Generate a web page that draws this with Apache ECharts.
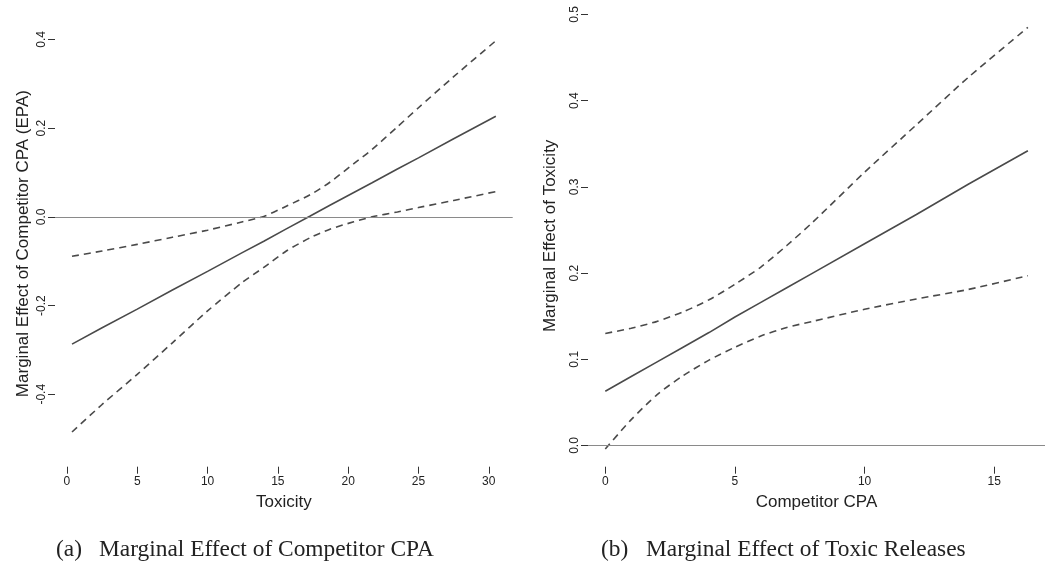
<!DOCTYPE html>
<html>
<head>
<meta charset="utf-8">
<script src="https://cdn.jsdelivr.net/npm/echarts@6/dist/echarts.min.js"></script>
<style>
  html, body { margin: 0; padding: 0; background: #fff; }
  #main { width: 1045px; height: 565px; }
</style>
</head>
<body>
<div id="main"></div>
<script>
// panel (a): marginal effect of competitor CPA over toxicity
var toxicityX = [0.36, 2.5, 5, 7.5, 10, 12.5, 14, 15.6, 17.3, 18.7, 20.4, 21.7, 23.5, 25, 27.5, 30.5]
var effectA = [-0.287, -0.250, -0.208, -0.165, -0.123, -0.080, -0.055, -0.027, 0.002, 0.026, 0.055, 0.077, 0.108, 0.133, 0.176, 0.227]
var upperA = [-0.089, -0.077, -0.062, -0.046, -0.030, -0.011, 0.001, 0.024, 0.050, 0.078, 0.120, 0.152, 0.203, 0.246, 0.316, 0.397]
var lowerA = [-0.485, -0.423, -0.355, -0.284, -0.212, -0.147, -0.114, -0.077, -0.047, -0.028, -0.011, 0.000, 0.011, 0.021, 0.037, 0.057]
var xTicksA = [0, 5, 10, 15, 20, 25, 30]
var yTicksA = [-0.4, -0.2, 0, 0.2, 0.4]

// panel (b): marginal effect of toxicity over competitor CPA
var cpaX = [0, 1, 2, 3, 4, 5, 6, 7, 8, 10, 12, 14, 16.3]
var effectB = [0.063, 0.080, 0.097, 0.114, 0.131, 0.149, 0.166, 0.183, 0.200, 0.234, 0.268, 0.303, 0.342]
var upperB = [0.130, 0.136, 0.144, 0.155, 0.169, 0.187, 0.207, 0.232, 0.259, 0.317, 0.372, 0.427, 0.485]
var lowerB = [-0.004, 0.030, 0.059, 0.081, 0.099, 0.114, 0.127, 0.137, 0.144, 0.158, 0.170, 0.181, 0.197]
var xTicksB = [0, 5, 10, 15]
var yTicksB = [0, 0.1, 0.2, 0.3, 0.4, 0.5]

var sans = 'Liberation Sans'
var serif = 'Liberation Serif'

function pairs(xs, ys) {
  return xs.map(function(x, i) { return [x, ys[i]] })
}

function xAxisOf(idx, min, max, ticks, name) {
  return {
    type: 'value', gridIndex: idx, min: min, max: max,
    name: name, nameLocation: 'middle', nameGap: 27,
    nameTextStyle: { fontFamily: sans, fontSize: 17, color: '#222' },
    splitLine: { show: false },
    axisLine: { show: false, onZero: false },
    axisTick: { show: true, length: 7, customValues: ticks, lineStyle: { color: '#333' } },
    axisLabel: { customValues: ticks, fontFamily: sans, fontSize: 12, color: '#222', margin: 9 }
  }
}

function yAxisOf(idx, min, max, ticks, name, gap) {
  return {
    type: 'value', gridIndex: idx, min: min, max: max,
    name: name, nameLocation: 'middle', nameGap: gap,
    nameTextStyle: { fontFamily: sans, fontSize: 17, color: '#222' },
    splitLine: { show: false },
    axisLine: { show: false, onZero: false },
    axisTick: { show: true, length: 7, customValues: ticks, lineStyle: { color: '#333' } },
    axisLabel: {
      customValues: ticks, rotate: 90, fontFamily: sans, fontSize: 12, color: '#222', margin: 7,
      formatter: function(v) { return v.toFixed(1) }
    }
  }
}

function curve(idx, xs, ys, dashed, zero) {
  var s = {
    type: 'line', xAxisIndex: idx, yAxisIndex: idx,
    data: pairs(xs, ys), showSymbol: false, symbol: 'none',
    smooth: dashed ? 0.25 : false,
    lineStyle: { color: '#4a4a4a', width: 1.6, type: dashed ? [7, 5] : 'solid' },
    silent: true, animation: false
  }
  if (zero) {
    s.markLine = {
      silent: true, symbol: 'none', label: { show: false },
      lineStyle: { color: '#8a8a8a', width: 1.2, type: 'solid' },
      data: [{ yAxis: 0 }]
    }
  }
  return s
}

var capStyle = { fontFamily: serif, fontSize: 23.4, fontWeight: 'normal', color: '#222' }

var chart = echarts.init(document.getElementById('main'), null, { renderer: 'canvas' })
chart.setOption({
  backgroundColor: '#fff',
  animation: false,
  title: [
    { text: '(a)', left: 56, top: 538, padding: 0, textStyle: capStyle },
    { text: 'Marginal Effect of Competitor CPA', left: 99, top: 538, padding: 0, textStyle: capStyle },
    { text: '(b)', left: 601, top: 538, padding: 0, textStyle: capStyle },
    { text: 'Marginal Effect of Toxic Releases', left: 646, top: 538, padding: 0, textStyle: capStyle }
  ],
  grid: [
    { left: 55, top: 20.5, width: 457.7, height: 446.2 },
    { left: 588, top: 5, width: 457, height: 461.7 }
  ],
  xAxis: [
    xAxisOf(0, -0.85, 31.7, xTicksA, 'Toxicity'),
    xAxisOf(1, -0.667, 16.96, xTicksB, 'Competitor CPA')
  ],
  yAxis: [
    yAxisOf(0, -0.5633, 0.4427, yTicksA, 'Marginal Effect of Competitor CPA (EPA)', 23),
    yAxisOf(1, -0.0246, 0.511, yTicksB, 'Marginal Effect of Toxicity', 29)
  ],
  series: [
    curve(0, toxicityX, effectA, false, true),
    curve(0, toxicityX, upperA, true),
    curve(0, toxicityX, lowerA, true),
    curve(1, cpaX, effectB, false, true),
    curve(1, cpaX, upperB, true),
    curve(1, cpaX, lowerB, true)
  ]
})
</script>
</body>
</html>
